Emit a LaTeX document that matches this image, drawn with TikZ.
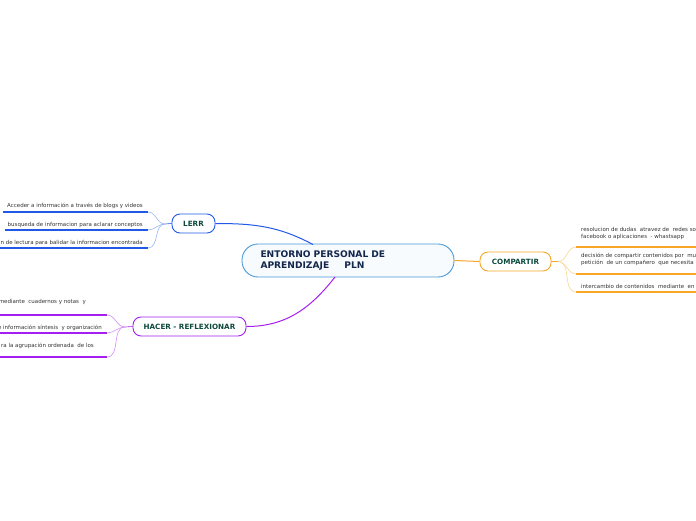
\documentclass[tikz,border=0pt]{standalone}
\usepackage{fontspec}
\setmainfont{DejaVu Sans}
\usetikzlibrary{positioning}
\definecolor{mainblue}{HTML}{4A9AD8}
\definecolor{mainfill}{HTML}{F7FBFE}
\definecolor{mainink}{HTML}{13264C}
\definecolor{topicink}{HTML}{0E4A3C}
\definecolor{lerrc}{HTML}{2158E8}
\definecolor{lerrl}{HTML}{9AB4F2}
\definecolor{compc}{HTML}{F7A628}
\definecolor{compl}{HTML}{FCD590}
\definecolor{hacerc}{HTML}{A41FF0}
\definecolor{hacerl}{HTML}{D48EF6}
\definecolor{leafink}{HTML}{333333}
\tikzset{
  % idea central
  mainidea/.style={draw=mainblue, line width=0.9pt, fill=mainfill, rounded corners=16pt,
    minimum width=212pt, minimum height=33pt, text width=175pt, align=left,
    text=mainink, font=\fontsize{9.1}{11}\selectfont\bfseries, inner sep=0pt},
  % tema principal
  topic/.style={draw=#1, line width=0.9pt, fill=white, rounded corners=8pt,
    minimum height=19pt, inner xsep=0pt, inner ysep=0pt, text=topicink,
    font=\fontsize{7.2}{8}\selectfont\bfseries},
  % texto de una rama
  leaf/.style={font=\fontsize{5.5}{7}\selectfont, text=leafink, inner sep=0pt, align=left},
  % enlaces
  trunk/.style={line width=1pt, #1},
  twig/.style={line width=0.6pt, #1},
  underl/.style={line width=1.6pt, #1},
}
\begin{document}
\begin{tikzpicture}[x=1pt, y=-1pt]
  \useasboundingbox (0,0) rectangle (696,520);

  \node[mainidea] (epa) at (348,260.5) {ENTORNO PERSONAL DE\\APRENDIZAJE \ \ \ \ PLN};
  \node[topic=lerrc, minimum width=43pt] (lerr) at (193.5,223.5) {LERR};
  \node[topic=compc, minimum width=71pt] (comp) at (515.5,261.5) {COMPARTIR};
  \node[topic=hacerc, minimum width=113pt] (hacer) at (189.5,326.5) {HACER - REFLEXIONAR};

  \coordinate (epatop) at (313,244.5);
  \coordinate (epabot) at (335,277);
  \draw[trunk=lerrc] (lerr.east) to[out=0, in=152] (epatop);
  \draw[trunk=hacerc] (hacer.east) to[out=0, in=232] (epabot);
  \draw[trunk=compc] (epa.east) -- (comp.west);

  % LERR
  \coordinate (lfork) at (165,224);
  \draw[twig=lerrc] (lerr.west) -- (lfork);
  \foreach \n/\y/\xs in {1/212/3, 2/230/5, 3/248/0} {
    \coordinate (ls\n) at (\xs,\y);
    \coordinate (le\n) at (148,\y);
    \draw[twig=lerrl] (lfork) to[out=180, in=0] (le\n);
    \draw[underl=lerrc] (ls\n) -- (le\n);
  }
  \node[leaf, anchor=base east] (lt1) at (143,207) {Acceder a información a través de blogs y videos};
  \node[leaf, anchor=base east] (lt2) at (143,226) {busqueda de informacion para aclarar conceptos};
  \node[leaf, anchor=base east] (lt3) at (143,244) {on de lectura para balidar la informacion encontrada};

  % COMPARTIR
  \coordinate (cfork) at (558,261.5);
  \draw[twig=compc] (comp.east) -- (cfork);
  \foreach \n/\y in {1/247, 2/274, 3/292} {
    \coordinate (cs\n) at (576,\y);
    \coordinate (ce\n) at (696,\y);
    \draw[twig=compl] (cfork) to[out=0, in=180] (cs\n);
    \draw[underl=compc] (cs\n) -- (ce\n);
  }
  \node[leaf, anchor=base west] (ct1) at (581,238) {resolucion de dudas \ atravez de \ redes so\\facebook o aplicaciones \ - whastsapp};
  \node[leaf, anchor=base west] (ct2) at (581,264) {decisión de compartir contenidos por \ mu\\petición \ de un compañero \ que necesita};
  \node[leaf, anchor=base west] (ct3) at (581,288) {intercambio de contenidos \ mediante \ en};

  % HACER - REFLEXIONAR
  \coordinate (hfork) at (125,327);
  \draw[twig=hacerc] (hacer.west) -- (hfork);
  \foreach \n/\y in {1/315, 2/333, 3/357} {
    \coordinate (hs\n) at (0,\y);
    \coordinate (he\n) at (107,\y);
    \draw[twig=hacerl] (hfork) to[out=180, in=0] (he\n);
    \draw[underl=hacerc] (hs\n) -- (he\n);
  }
  \node[leaf, anchor=base east] (ht1) at (86,303) {mediante \ cuadernos y notas \ y};
  \node[leaf, anchor=base east] (ht2) at (102,329) {e información síntesis \ y organización};
  \node[leaf, anchor=base east] (ht3) at (94,347) {ra la agrupación ordenada \ de los};
\end{tikzpicture}
\end{document}
